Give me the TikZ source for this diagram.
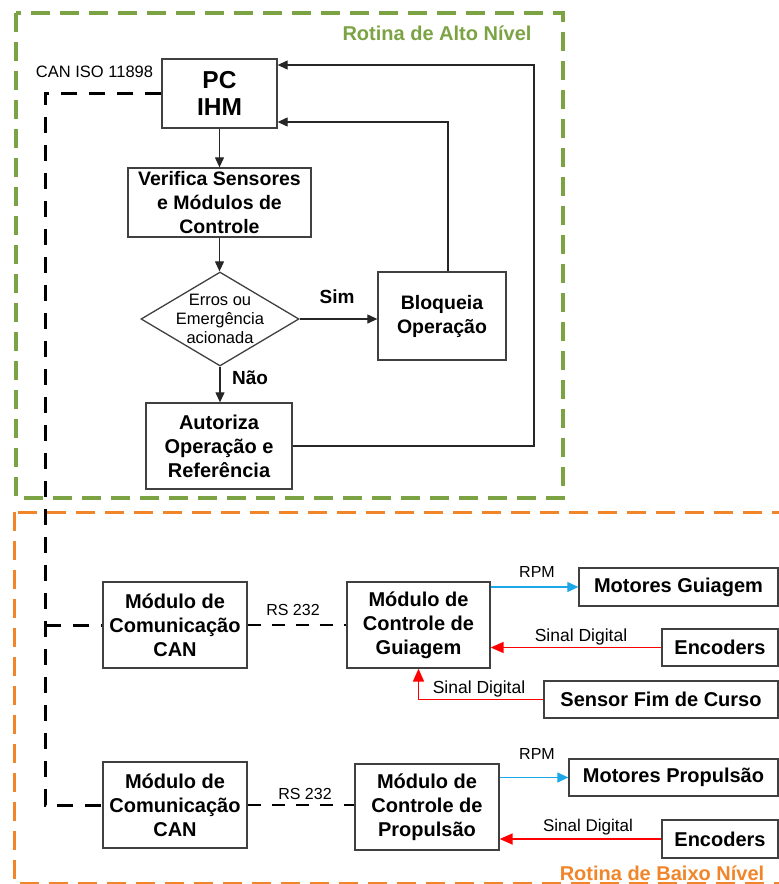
\documentclass[tikz,border=0pt]{standalone}
\usepackage{fontspec}
\setmainfont{Liberation Sans}
\usetikzlibrary{arrows.meta,shapes.geometric}
\definecolor{grn}{HTML}{7BA344}
\definecolor{orng}{HTML}{F0852A}
\definecolor{lblue}{HTML}{1CA8E8}
\definecolor{boxgray}{HTML}{404040}
\begin{document}
\begin{tikzpicture}[x=1pt,y=-1pt,
  box/.style={draw=boxgray,line width=1.3pt,fill=white,inner sep=0pt,align=center,
    font=\bfseries\fontsize{20}{24}\selectfont},
  arr/.style={draw=black!85,line width=1.1pt,-{Triangle[length=10pt,width=9pt]}},
  redarr/.style={draw=red,line width=1.8pt,-{Triangle[length=13pt,width=11pt]}},
  bluearr/.style={draw=lblue,line width=1.1pt,-{Triangle[length=11pt,width=10pt]}},
  candash/.style={draw=black,line width=3pt,dash pattern=on 16pt off 12pt},
  rsdash/.style={draw=black,line width=2.6pt,dash pattern=on 13pt off 11pt},
  lbl/.style={inner sep=0pt,font=\fontsize{16}{19}\selectfont},
  sdlbl/.style={inner sep=0pt,font=\fontsize{17.5}{20}\selectfont},
  lblb/.style={inner sep=0pt,font=\bfseries\fontsize{19}{22}\selectfont},
  regiontitle/.style={inner sep=0pt,font=\bfseries\fontsize{20}{24}\selectfont}
]
\useasboundingbox (0,0) rectangle (779,884);
\clip (0,0) rectangle (779,884);

% regions
\draw[grn,line width=3.2pt,dash pattern=on 19pt off 10pt] (16,13) rectangle (563,498);
\draw[orng,line width=3pt,dash pattern=on 19pt off 10pt] (14,512) rectangle (800,883);
\node[regiontitle,text=grn] (t1) at (437,33) {Rotina de Alto Nível};
\node[regiontitle,text=orng] (t2) at (662,873) {Rotina de Baixo Nível};

% upper flow
\node[box,minimum width=115pt,minimum height=69pt,font=\bfseries\fontsize{24.5}{27}\selectfont] (pc) at (219.5,93.5) {PC\\IHM};
\node[box,minimum width=183pt,minimum height=69pt,font=\bfseries\fontsize{19.5}{24}\selectfont] (ver) at (219.5,202.5) {Verifica Sensores\\e Módulos de\\Controle};
\node[draw=boxgray,line width=1.3pt,fill=white,shape=diamond,minimum width=158pt,minimum height=94pt,inner sep=0pt] (dia) at (220,319) {};
\node[inner sep=0pt,align=center,font=\fontsize{16.5}{19}\selectfont] (diatxt) at (dia.center) {Erros ou\\Emergência\\acionada};
\node[box,minimum width=128pt,minimum height=88pt,font=\bfseries\fontsize{19.5}{24}\selectfont] (blq) at (442,316) {Bloqueia\\Operação};
\node[box,minimum width=146pt,minimum height=86pt] (aut) at (219,446) {Autoriza\\Operação e\\Referência};

\draw[arr] (pc.south) -- (ver.north);
\draw[arr] (ver.south) -- (ver.south |- dia.north);
\draw[arr] (dia.east) -- (dia.east -| blq.west);
\draw[arr] (dia.south) -- (dia.south |- aut.north);
\node[lblb] (sim) at (337,297) {Sim};
\node[lblb] (nao) at (250,378) {Não};

\coordinate (fb1) at (534,65);
\coordinate (fb2) at (448,122);
\draw[arr] (aut.east) -| (fb1) -- (fb1 -| pc.east);
\draw[arr] (fb2 |- blq.north) -- (fb2) -- (fb2 -| pc.east);

% lower modules
\node[box,minimum width=144pt,minimum height=86pt] (can1) at (175,625) {Módulo de\\Comunicação\\CAN};
\node[box,minimum width=143pt,minimum height=86pt] (gui) at (418.5,625) {Módulo de\\Controle de\\Guiagem};
\node[box,minimum width=144pt,minimum height=86pt] (can2) at (175,805) {Módulo de\\Comunicação\\CAN};
\node[box,minimum width=144pt,minimum height=86pt] (prop) at (427,807) {Módulo de\\Controle de\\Propulsão};

\node[box,minimum width=199pt,minimum height=38pt] (motg) at (678.5,587) {Motores Guiagem};
\node[box,minimum width=116pt,minimum height=37pt] (enc1) at (720,647.5) {Encoders};
\node[box,minimum width=234pt,minimum height=37pt] (sens) at (661,699.5) {Sensor Fim de Curso};
\node[box,minimum width=209pt,minimum height=37pt] (motp) at (673.5,777.5) {Motores Propulsão};
\node[box,minimum width=116pt,minimum height=38pt] (enc2) at (720,839) {Encoders};

% CAN bus
\coordinate (canTop) at (45,93.5);
\coordinate (canMid) at (45,625);
\draw[candash] (pc.west) -- (canTop) |- (can2.west);
\draw[candash] (canMid) -- (can1.west);
\node[lbl,font=\fontsize{16.5}{19}\selectfont] (canlbl) at (94.5,72) {CAN ISO 11898};

% RS 232
\draw[rsdash] (can1.east) -- (gui.west |- can1.east);
\draw[rsdash] (can2.east) -- (can2.east -| prop.west);
\node[lbl] (rs1) at (293,610) {RS 232};
\node[lbl] (rs2) at (305,794) {RS 232};

% signals guiagem
\draw[bluearr] (gui.east |- motg.west) -- (motg.west);
\node[lbl] (rpm1) at (537,572) {RPM};
\draw[redarr] (enc1.west) -- (enc1.west -| gui.east);
\node[sdlbl] (sd1) at (581,637) {Sinal Digital};
\draw[redarr] (sens.west) -| (gui.south);
\node[sdlbl] (sd2) at (479,689) {Sinal Digital};

% signals propulsao
\draw[bluearr] (prop.east |- motp.west) -- (motp.west);
\node[lbl] (rpm2) at (537,754) {RPM};
\draw[redarr] (enc2.west) -- (enc2.west -| prop.east);
\node[sdlbl,font=\fontsize{17}{20}\selectfont] (sd3) at (588,827) {Sinal Digital};
\end{tikzpicture}
\end{document}
